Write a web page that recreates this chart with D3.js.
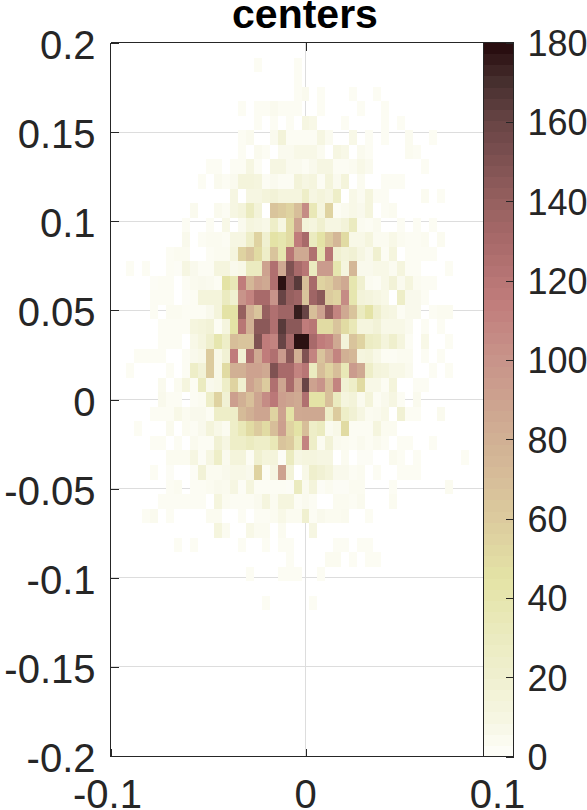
<!DOCTYPE html>
<html><head><meta charset="utf-8">
<script src="https://cdn.jsdelivr.net/npm/d3@7"></script>
<style>html,body{margin:0;padding:0;background:#fff}svg{display:block}text{font-family:"Liberation Sans",Arial,sans-serif;fill:#262626}</style>
</head><body><div id="chart"></div>
<script>
const chartTitle = "centers";
const xTickValues = [-0.1, 0, 0.1];
const xTickLabels = ["-0.1", "0", "0.1"];
const yTickValues = [-0.2, -0.15, -0.1, -0.05, 0, 0.05, 0.1, 0.15, 0.2];
const yTickLabels = ["-0.2", "-0.15", "-0.1", "-0.05", "0", "0.05", "0.1", "0.15", "0.2"];
const colorbarTicks = [0, 20, 40, 60, 80, 100, 120, 140, 160, 180];
const colorStops = [0, 10, 20, 30, 45, 60, 80, 100, 115, 130, 140, 160, 170, 180];
const colorValues = ["#fefefa","#f6f6e2","#f0f0d0","#ebebc0","#e4e3a6","#dccb9e","#d1b094","#c8948a","#c07c7b","#a86a6a","#96605f","#684445","#47302f","#24090b"];
const binCount = 49;
// row index (0 = bottom bin), first column that has a count, counts from that column on
const rowIndex = [47,46,45,44,43,42,41,40,39,38,37,36,35,34,33,32,31,30,29,28,27,26,25,24,23,22,21,20,19,18,17,16,15,14,13,12,10];
const rowFirstColumn = [18,23,23,16,18,16,16,12,11,15,10,9,9,7,2,5,5,5,6,6,3,2,6,6,5,3,5,7,5,7,6,4,13,8,22,17,19];
const rowCounts = [
[3,0,0,0,0,3],
[3],
[3,5,0,3,0,0,0,3,0,0,3],
[3,0,3,3,5,3,3,3,0,0,3,0,0,0,0,3,0,0,3],
[3,0,3,0,3,0,10,8,0,0,0,3,0,0,0,0,3,0,3],
[3,5,0,0,5,15,3,3,3,3,10,4,0,0,8,0,3,0,3,0,0,4,0,0,3],
[3,0,5,3,0,5,5,8,8,8,4,0,10,8,0,5,3,0,0,0,0,4,3],
[3,3,0,3,3,10,3,0,10,10,5,5,3,6,10,10,3,3,4,8,5,0,0,0,0,0,0,3],
[3,0,5,3,5,14,14,12,3,5,3,3,15,10,12,3,14,5,14,0,4,0,0,3,3,3],
[10,0,10,10,14,16,12,12,12,25,10,14,10,25,0,8,4,12,3,3,0,0,0,0,4,0,3],
[5,0,0,5,3,10,14,30,15,0,65,60,55,70,105,35,12,55,3,5,8,6,12,0,3,4],
[3,0,0,3,0,8,0,5,12,10,8,25,10,50,90,15,12,20,10,10,15,30,4,3,5,0,0,3,0,3,0,3],
[6,0,3,4,4,3,10,10,25,55,20,45,40,50,115,130,30,45,60,75,50,8,8,12,4,4,8,4,3,3,4,0,4],
[3,4,4,0,0,3,4,4,12,55,65,50,25,65,40,120,85,85,125,40,120,20,15,18,10,6,20,3,12,0,3,3,3,3],
[3,0,3,0,0,3,2,10,6,3,3,12,12,6,8,30,30,90,125,85,150,130,120,30,95,95,40,12,75,6,6,8,8,4,12,3,3,0,0,0,3],
[2,3,3,0,3,5,6,5,3,45,35,115,75,90,85,125,178,145,165,70,130,55,60,75,85,40,20,4,3,8,16,5,12,4,3,3],
[3,3,3,0,2,3,14,14,14,30,20,100,110,130,130,100,160,140,135,65,135,145,60,55,105,40,15,13,10,8,0,25,6,6,3],
[3,0,4,4,3,3,3,6,14,45,45,140,80,65,140,125,135,135,175,160,70,90,140,110,85,65,30,45,22,12,10,3,6,6,0,3,4,4],
[3,3,3,3,12,14,16,3,12,45,120,80,145,145,125,165,145,145,115,120,50,50,65,50,35,12,12,16,8,8,8,5,0,3,0,3],
[3,3,3,0,8,12,22,40,25,70,65,65,150,115,110,160,130,178,178,130,115,110,85,15,65,55,28,25,14,22,12,3,0,8,0,0,3],
[3,3,3,3,0,0,3,6,8,60,8,18,115,18,125,85,115,125,95,145,80,150,110,65,85,110,80,75,12,14,8,3,3,4,4,0,3,0,3],
[3,0,0,0,0,3,0,3,25,16,60,8,50,80,80,90,90,85,150,130,130,110,120,30,70,55,70,35,95,85,25,14,12,8,8,5,0,0,3,0,3],
[5,0,4,12,3,30,6,8,25,55,20,90,78,60,125,88,130,90,160,90,100,70,110,18,25,50,8,8,3,14,0,0,3,3],
[6,3,3,0,3,4,25,55,18,92,80,68,88,105,118,92,88,84,125,45,45,68,30,12,15,5,14,3,6,10,3,0,5],
[3,3,3,8,4,6,6,3,25,25,25,72,80,88,88,55,90,45,85,86,86,86,25,60,25,18,10,4,5,8,0,18,3,3,0,0,5],
[3,0,0,0,5,0,4,3,6,14,8,4,25,35,50,60,50,70,92,55,45,70,25,30,5,8,50,3,3,3,12,4,4],
[3,3,0,3,0,5,3,3,18,10,25,25,30,25,25,35,65,60,35,110,25,4,16,5,4,3,5,3,5,3,0,3,3,0,0,3],
[4,4,4,10,2,10,25,5,14,14,3,20,14,14,2,30,10,12,12,10,10,0,4,0,2,2,0,0,5,3,0,3,0,0,0,0,0,3],
[3,0,2,0,0,2,16,4,4,6,8,8,6,55,3,10,90,15,0,8,22,18,14,6,6,3,4,0,3,0,0,3,3,3],
[3,4,0,3,3,4,6,5,10,2,12,3,3,3,3,2,30,5,14,2,4,2,2,4,4,0,0,0,3,0,0,0,0,0,0,4],
[3,3,3,3,3,3,0,12,4,3,3,3,5,12,4,12,12,3,5,3,0,0,4,4,3,5,0,0,0,4],
[3,5,0,3,0,0,0,0,4,4,0,0,3,0,3,3,4,8,4,4,20,3,6,4,4,5,0,0,3],
[12,4,0,0,8,4,4,0,4,0,0,0,10],
[3,0,3,0,0,0,0,0,3,0,0,3,0,3,3,0,0,0,0,0,3,3,0,3,3],
[3,0,0,0,0,4,4,0,3,0,3,3],
[3,0,0,0,3,3,3,0,0,3],
[3,0,0,0,0,0,3]
];

const W = 587, H = 810;
const svg = d3.select("#chart").append("svg").attr("width", W).attr("height", H);
const x = d3.scaleLinear().domain([-0.1, 0.1]).range([110.5, 500.5]);
const y = d3.scaleLinear().domain([-0.2, 0.2]).range([756, 43]);
const color = d3.scaleLinear().domain(colorStops).range(colorValues).clamp(true);
const cb = d3.scaleLinear().domain([0, 180]).range([756.5, 42.5]);
const crisp = v => Math.floor(v) + 0.5;
const ink = "#262626";
const axisFont = 40, barFont = 36, titleFont = 41;

// grid lines sit behind the cells, and show wherever a bin is empty
svg.append("g").selectAll("line").data(yTickValues.slice(1, -1)).join("line")
  .attr("x1", x.range()[0]).attr("x2", 484)
  .attr("y1", d => crisp(y(d))).attr("y2", d => crisp(y(d)))
  .attr("stroke", "#dddddd");
svg.append("g").selectAll("line").data([0]).join("line")
  .attr("x1", d => crisp(x(d))).attr("x2", d => crisp(x(d)))
  .attr("y1", 43).attr("y2", 756).attr("stroke", "#dddddd");

// heat-map cells
const dx = 0.2 / binCount, dy = 0.4 / binCount;
const cells = [];
rowCounts.forEach((row, i) => row.forEach((v, j) => {
  if (v > 0) cells.push({ r: rowIndex[i], c: rowFirstColumn[i] + j, v });
}));
svg.append("g").attr("shape-rendering", "crispEdges").selectAll("rect").data(cells).join("rect")
  .attr("x", d => x(-0.1 + d.c * dx))
  .attr("width", d => x(-0.1 + (d.c + 1) * dx) - x(-0.1 + d.c * dx))
  .attr("y", d => y(-0.2 + (d.r + 1) * dy))
  .attr("height", d => y(-0.2 + d.r * dy) - y(-0.2 + (d.r + 1) * dy))
  .attr("fill", d => color(d.v));

// axes
const style = g => { g.select(".domain").remove(); g.selectAll("line").attr("stroke", ink).attr("shape-rendering", "crispEdges"); };
const left = svg.append("g").attr("transform", "translate(110.5,0)")
  .call(d3.axisLeft(y).tickValues(yTickValues).tickSize(-8).tickPadding(15)
    .tickFormat((d, i) => yTickLabels[i])).call(style);
left.selectAll("text").attr("font-size", axisFont).attr("dy", 15.5);
svg.append("g").attr("transform", "translate(0,42.5)")
  .call(d3.axisTop(x).tickValues([0]).tickSize(-8).tickFormat("")).call(style);
const bottom = svg.append("g").attr("transform", "translate(0,756.5)")
  .call(d3.axisBottom(x).tickValues(xTickValues).tickSize(-8).tickPadding(10)
    .tickFormat((d, i) => xTickLabels[i])).call(style);
bottom.selectAll("text").attr("font-size", axisFont).attr("y", 51.5).attr("dy", 0)
  .attr("dx", (d, i) => [-3.5, -0.5, -3.5][i]);

// frame
svg.append("g").attr("fill", "none").attr("stroke", ink).attr("shape-rendering", "crispEdges")
  .selectAll("line").data([[110.5, 42.5, 513.5, 42.5], [110.5, 756.5, 513.5, 756.5], [110.5, 42.5, 110.5, 756.5]]).join("line")
  .attr("x1", d => d[0]).attr("y1", d => d[1]).attr("x2", d => d[2]).attr("y2", d => d[3]);

// colour bar
const cbLeft = 483.5, cbRight = 513.5, bands = d3.range(64);
svg.append("g").attr("shape-rendering", "crispEdges").selectAll("rect").data(bands).join("rect")
  .attr("x", cbLeft).attr("width", cbRight - cbLeft)
  .attr("y", d => cb((d + 1) * 180 / 64)).attr("height", cb(0) - cb(180 / 64) + 0.5)
  .attr("fill", d => color((d + 0.5) * 180 / 64));
svg.append("rect").attr("x", cbLeft).attr("y", 42.5).attr("width", cbRight - cbLeft).attr("height", 714)
  .attr("fill", "none").attr("stroke", ink).attr("shape-rendering", "crispEdges");
const right = svg.append("g").attr("transform", `translate(${cbRight},0)`)
  .call(d3.axisRight(cb).tickValues(colorbarTicks).tickSize(-8).tickPadding(14).tickFormat(d => d)).call(style);
right.selectAll("text").attr("font-size", barFont).attr("dy", "0.36em");

// title
svg.append("text").attr("x", 305).attr("y", 28).attr("text-anchor", "middle")
  .attr("font-size", titleFont).attr("font-weight", "bold").attr("style", "fill:#000").text(chartTitle);
</script></body></html>
